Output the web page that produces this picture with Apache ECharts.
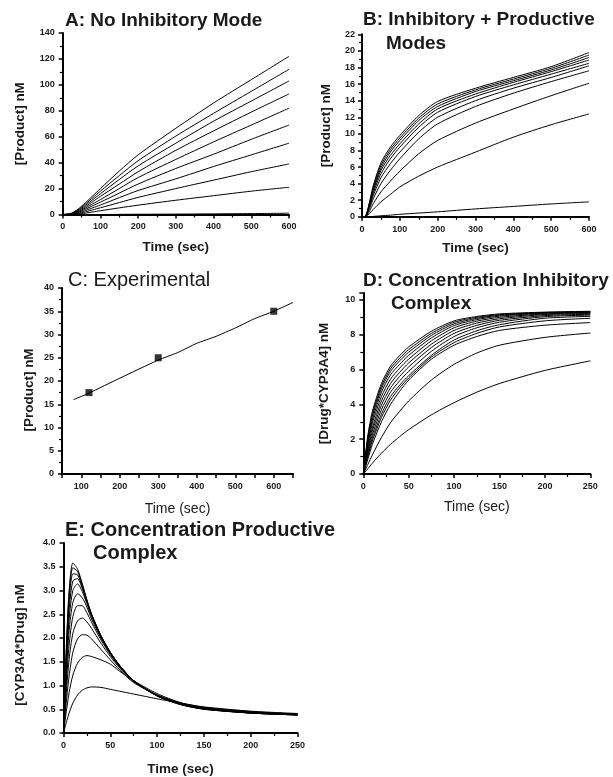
<!DOCTYPE html>
<html>
<head>
<meta charset="utf-8">
<script src="https://cdn.jsdelivr.net/npm/echarts@6/dist/echarts.min.js"></script>
<style>
html,body{margin:0;padding:0;background:#fff;}
#chart{width:613px;height:777px;}
</style>
</head>
<body>
<div id="chart"></div>
<script>
// ---------- DATA ----------
// Panel A: No Inhibitory Mode  ([Product] nM vs time, s)
const aTime = [0, 20, 40, 60, 80, 100, 150, 200, 300, 400, 500, 600];
const aCurves = [
  [0, 0.5, 4.0, 9.0, 14.5, 20.0, 33.5, 46.0, 66.5, 86.0, 104.0, 122.0],
  [0, 0.5, 3.5, 8.0, 13.0, 18.0, 30.0, 41.5, 60.5, 78.0, 95.0, 112.0],
  [0, 0.4, 3.0, 7.0, 11.5, 16.0, 27.0, 37.5, 55.0, 72.0, 87.5, 103.0],
  [0, 0.3, 2.5, 6.0, 10.0, 14.0, 23.5, 33.0, 49.5, 64.5, 79.0, 93.0],
  [0, 0.3, 2.0, 5.0, 8.3, 11.5, 20.0, 28.5, 42.5, 56.0, 69.0, 82.0],
  [0, 0.2, 1.5, 4.0, 6.8, 9.5, 16.5, 23.5, 35.5, 46.5, 58.0, 69.0],
  [0, 0.2, 1.0, 3.0, 5.2, 7.3, 13.0, 18.5, 27.5, 37.0, 46.0, 55.0],
  [0, 0.1, 0.7, 2.0, 3.6, 5.2, 9.2, 13.2, 20.0, 26.5, 33.0, 39.0],
  [0, 0.1, 0.4, 1.0, 2.0, 2.9, 5.1, 7.2, 11.0, 14.5, 18.0, 21.0],
  [0, 0, 0, 0, 0, 0, 0.1, 0.2, 0.3, 0.5, 0.7, 1.0]
];

// Panel B: Inhibitory + Productive Modes
const bTime = [0, 10, 20, 30, 50, 75, 100, 150, 200, 300, 400, 500, 600];
const bCurves = [
  [0, 0.1, 1.8, 3.8, 6.5, 8.4, 9.8, 12.2, 13.9, 15.5, 16.8, 18.1, 19.8],
  [0, 0.1, 1.7, 3.6, 6.2, 8.1, 9.5, 11.9, 13.6, 15.3, 16.6, 17.9, 19.5],
  [0, 0.1, 1.6, 3.4, 5.9, 7.8, 9.2, 11.6, 13.3, 15.1, 16.4, 17.7, 19.2],
  [0, 0.1, 1.5, 3.2, 5.6, 7.4, 8.8, 11.2, 13.0, 14.8, 16.2, 17.5, 18.9],
  [0, 0.1, 1.4, 2.9, 5.2, 7.0, 8.4, 10.8, 12.6, 14.5, 15.9, 17.2, 18.5],
  [0, 0.1, 1.2, 2.6, 4.7, 6.4, 7.8, 10.2, 12.0, 14.0, 15.5, 16.8, 18.2],
  [0, 0.1, 1.0, 2.2, 4.0, 5.6, 7.0, 9.4, 11.2, 13.3, 14.9, 16.3, 17.6],
  [0, 0.05, 0.7, 1.6, 3.0, 4.3, 5.5, 7.6, 9.2, 11.3, 13.0, 14.6, 16.1],
  [0, 0.03, 0.4, 0.9, 1.8, 2.7, 3.6, 4.9, 6.0, 7.8, 9.6, 11.1, 12.4],
  [0, 0, 0.02, 0.05, 0.12, 0.2, 0.3, 0.45, 0.6, 0.95, 1.25, 1.55, 1.8]
];

// Panel C: Experimental
const cFitTime = [80, 120, 200, 300, 350, 400, 450, 500, 550, 600, 650];
const cFitValue = [16.0, 17.4, 20.6, 24.5, 26.1, 28.1, 29.6, 31.4, 33.4, 35.0, 36.9];
const cExpTime = [120, 300, 600];
const cExpValue = [17.5, 25.0, 35.0];

// Panel D: Concentration Inhibitory Complex
const dTime = [0, 5, 10, 20, 30, 40, 50, 75, 100, 125, 150, 200, 250];
const dCurves = [
  [0, 2.2, 3.6, 5.2, 6.2, 6.8, 7.3, 8.2, 8.8, 9.05, 9.2, 9.3, 9.35],
  [0, 2.1, 3.45, 5.05, 6.05, 6.65, 7.15, 8.08, 8.72, 9.0, 9.16, 9.28, 9.33],
  [0, 2.0, 3.3, 4.9, 5.9, 6.5, 7.0, 7.96, 8.63, 8.94, 9.12, 9.26, 9.31],
  [0, 1.85, 3.1, 4.7, 5.7, 6.3, 6.82, 7.82, 8.53, 8.87, 9.07, 9.24, 9.29],
  [0, 1.7, 2.9, 4.45, 5.45, 6.08, 6.6, 7.65, 8.4, 8.78, 9.0, 9.2, 9.26],
  [0, 1.55, 2.65, 4.2, 5.2, 5.84, 6.38, 7.46, 8.25, 8.67, 8.92, 9.16, 9.22],
  [0, 1.4, 2.45, 3.95, 4.95, 5.6, 6.15, 7.27, 8.08, 8.54, 8.83, 9.1, 9.18],
  [0, 1.25, 2.25, 3.7, 4.7, 5.35, 5.9, 7.05, 7.9, 8.4, 8.72, 9.04, 9.13],
  [0, 1.1, 2.05, 3.45, 4.45, 5.1, 5.65, 6.82, 7.7, 8.23, 8.58, 8.95, 9.06],
  [0, 1.0, 1.9, 3.25, 4.25, 4.95, 5.52, 6.72, 7.55, 8.08, 8.45, 8.8, 8.95],
  [0, 0.85, 1.7, 3.0, 4.0, 4.75, 5.4, 6.6, 7.4, 7.9, 8.25, 8.55, 8.7],
  [0, 0.55, 1.1, 2.1, 2.95, 3.6, 4.2, 5.4, 6.3, 6.95, 7.4, 7.85, 8.1],
  [0, 0.3, 0.62, 1.2, 1.7, 2.15, 2.55, 3.4, 4.1, 4.7, 5.2, 5.95, 6.5]
];

// Panel E: Concentration Productive Complex
const eTime = [0, 3, 6, 10, 15, 20, 25, 30, 40, 50, 60, 75, 100, 125, 150, 200, 250];
const eCurves = [
  [0, 1.8, 3.0, 3.58, 3.45, 3.15, 2.8, 2.5, 2.05, 1.7, 1.42, 1.1, 0.78, 0.6, 0.5, 0.42, 0.38],
  [0, 1.7, 2.9, 3.48, 3.4, 3.12, 2.8, 2.5, 2.05, 1.7, 1.42, 1.1, 0.78, 0.6, 0.5, 0.42, 0.38],
  [0, 1.6, 2.75, 3.35, 3.33, 3.08, 2.78, 2.49, 2.04, 1.7, 1.42, 1.1, 0.78, 0.6, 0.51, 0.42, 0.38],
  [0, 1.5, 2.6, 3.2, 3.25, 3.04, 2.76, 2.48, 2.03, 1.69, 1.42, 1.1, 0.79, 0.61, 0.51, 0.42, 0.38],
  [0, 1.4, 2.4, 3.0, 3.14, 2.98, 2.72, 2.45, 2.02, 1.68, 1.41, 1.1, 0.79, 0.61, 0.51, 0.43, 0.39],
  [0, 1.25, 2.15, 2.75, 2.93, 2.85, 2.65, 2.4, 2.0, 1.67, 1.4, 1.09, 0.79, 0.62, 0.52, 0.43, 0.39],
  [0, 1.05, 1.85, 2.45, 2.68, 2.68, 2.53, 2.33, 1.96, 1.65, 1.39, 1.09, 0.8, 0.62, 0.52, 0.43, 0.39],
  [0, 0.85, 1.55, 2.1, 2.36, 2.42, 2.34, 2.2, 1.89, 1.61, 1.37, 1.08, 0.8, 0.63, 0.53, 0.44, 0.39],
  [0, 0.65, 1.2, 1.7, 1.98, 2.07, 2.06, 1.98, 1.76, 1.54, 1.33, 1.06, 0.8, 0.63, 0.53, 0.44, 0.4],
  [0, 0.45, 0.85, 1.22, 1.47, 1.59, 1.63, 1.61, 1.54, 1.45, 1.3, 1.1, 0.83, 0.64, 0.54, 0.45, 0.4],
  [0, 0.22, 0.42, 0.63, 0.8, 0.9, 0.95, 0.97, 0.96, 0.92, 0.88, 0.82, 0.72, 0.63, 0.55, 0.46, 0.41]
];

// Labels
const panelTitles = [
  'A: No Inhibitory Mode',
  'B: Inhibitory + Productive',
  'Modes',
  'C: Experimental',
  'D: Concentration Inhibitory',
  'Complex',
  'E: Concentration Productive',
  'Complex'
];
const timeLabel = 'Time (sec)';
const yLabels = ['[Product] nM', '[Product] nM', '[Product] nM', '[Drug*CYP3A4] nM', '[CYP3A4*Drug] nM'];

// ---------- CHART ----------
const FONT = '"Liberation Sans", Arial, Helvetica, sans-serif';
const TXT = '#1a1a1a';

function titleItem(text, left, top, size, weight) {
  return {
    text: text, left: left, top: top, padding: 0,
    textStyle: { fontFamily: FONT, fontSize: size, fontWeight: weight, color: TXT }
  };
}

function axisBase(extra) {
  const base = {
    type: 'value',
    axisLine: { show: true, onZero: false, lineStyle: { color: '#000', width: 2 } },
    axisTick: { show: true, inside: false, length: 4, lineStyle: { color: '#000', width: 1.5 } },
    minorTick: { show: false },
    splitLine: { show: false },
    axisLabel: { fontFamily: FONT, fontSize: 9, fontWeight: 'bold', color: TXT },
    nameTextStyle: { fontFamily: FONT, fontSize: 13.5, fontWeight: 'bold', color: TXT }
  };
  for (const k in extra) {
    if (typeof extra[k] === 'object' && !Array.isArray(extra[k]) && base[k]) {
      base[k] = Object.assign({}, base[k], extra[k]);
    } else {
      base[k] = extra[k];
    }
  }
  return base;
}
const minor2 = { show: true, splitNumber: 2, length: 3, lineStyle: { color: '#000', width: 1.2 } };

const grids = [
  { left: 62.7, top: 33, width: 226.3, height: 181.5 },   // A
  { left: 362, top: 34.3, width: 227, height: 182.5 },    // B
  { left: 62, top: 288, width: 231, height: 186 },        // C
  { left: 363.3, top: 293, width: 227, height: 181 },     // D
  { left: 63.5, top: 543, width: 234, height: 190 }       // E
];

const xAxes = [
  axisBase({ gridIndex: 0, min: 0, max: 600, interval: 100, minorTick: minor2,
    name: timeLabel, nameLocation: 'middle', nameGap: 26, axisLabel: { margin: 8 } }),
  axisBase({ gridIndex: 1, min: 0, max: 600, interval: 100, minorTick: minor2,
    name: timeLabel, nameLocation: 'middle', nameGap: 24, axisLabel: { margin: 8 } }),
  axisBase({ gridIndex: 2, min: 50, max: 650, interval: 50,
    name: timeLabel, nameLocation: 'middle', nameGap: 28,
    nameTextStyle: { fontWeight: 'normal', fontSize: 14 },
    axisLabel: { margin: 8, formatter: v => (v % 100 === 0 ? String(v) : '') } }),
  axisBase({ gridIndex: 3, min: 0, max: 250, interval: 50, minorTick: minor2,
    name: timeLabel, nameLocation: 'middle', nameGap: 26,
    nameTextStyle: { fontWeight: 'normal', fontSize: 14 }, axisLabel: { margin: 8 } }),
  axisBase({ gridIndex: 4, min: 0, max: 250, interval: 50, minorTick: minor2,
    name: timeLabel, nameLocation: 'middle', nameGap: 29, axisLabel: { margin: 8 } })
];

const yAxes = [
  axisBase({ gridIndex: 0, min: 0, max: 140, interval: 20, minorTick: minor2,
    name: yLabels[0], nameLocation: 'middle', nameGap: 35, axisLabel: { margin: 8 } }),
  axisBase({ gridIndex: 1, min: 0, max: 22, interval: 2, minorTick: minor2,
    name: yLabels[1], nameLocation: 'middle', nameGap: 29, axisLabel: { margin: 7 } }),
  axisBase({ gridIndex: 2, min: 0, max: 40, interval: 5, minorTick: minor2,
    name: yLabels[2], nameLocation: 'middle', nameGap: 26,
    nameTextStyle: { padding: [0, 18, 0, 0] }, axisLabel: { margin: 8 } }),
  axisBase({ gridIndex: 3, min: 0, max: 10.4, interval: 2, minorTick: minor2,
    name: yLabels[3], nameLocation: 'middle', nameGap: 32,
    axisLabel: { margin: 8, showMaxLabel: false, formatter: v => (Math.abs(v % 2) < 1e-9 ? String(v) : '') } }),
  axisBase({ gridIndex: 4, min: 0, max: 4, interval: 0.5,
    name: yLabels[4], nameLocation: 'middle', nameGap: 36,
    nameTextStyle: { padding: [0, 14, 0, 0] },
    axisLabel: { margin: 8, formatter: v => v.toFixed(1) } })
];

function curveSeries(times, curves, gi) {
  return curves.map(c => ({
    type: 'line', xAxisIndex: gi, yAxisIndex: gi,
    data: times.map((t, i) => [t, c[i]]),
    symbol: 'none', smooth: 0.25,
    lineStyle: { color: '#000', width: 1 }, silent: true
  }));
}

const series = [].concat(
  curveSeries(aTime, aCurves, 0),
  curveSeries(bTime, bCurves, 1),
  [{
    type: 'line', xAxisIndex: 2, yAxisIndex: 2,
    data: cFitTime.map((t, i) => [t, cFitValue[i]]),
    symbol: 'none', smooth: 0.2,
    lineStyle: { color: '#000', width: 1 }, silent: true
  }, {
    type: 'scatter', xAxisIndex: 2, yAxisIndex: 2,
    data: cExpTime.map((t, i) => [t, cExpValue[i]]),
    symbol: 'rect', symbolSize: 7, itemStyle: { color: '#000' }, silent: true
  }],
  curveSeries(dTime, dCurves, 3),
  curveSeries(eTime, eCurves, 4)
);

const option = {
  animation: false,
  backgroundColor: '#fff',
  title: [
    titleItem(panelTitles[0], 65, 11.5, 19, 'bold'),
    titleItem(panelTitles[1], 363, 10.5, 19, 'bold'),
    titleItem(panelTitles[2], 386, 34.5, 19, 'bold'),
    titleItem(panelTitles[3], 68, 270.5, 20, 'normal'),
    titleItem(panelTitles[4], 363, 271.5, 19, 'bold'),
    titleItem(panelTitles[5], 391, 294.5, 19, 'bold'),
    titleItem(panelTitles[6], 65, 520, 20, 'bold'),
    titleItem(panelTitles[7], 93, 543.5, 20, 'bold')
  ],
  grid: grids,
  xAxis: xAxes,
  yAxis: yAxes,
  series: series
};

const chart = echarts.init(document.getElementById('chart'), null, { renderer: 'canvas' });
chart.setOption(option);
</script>
</body>
</html>
